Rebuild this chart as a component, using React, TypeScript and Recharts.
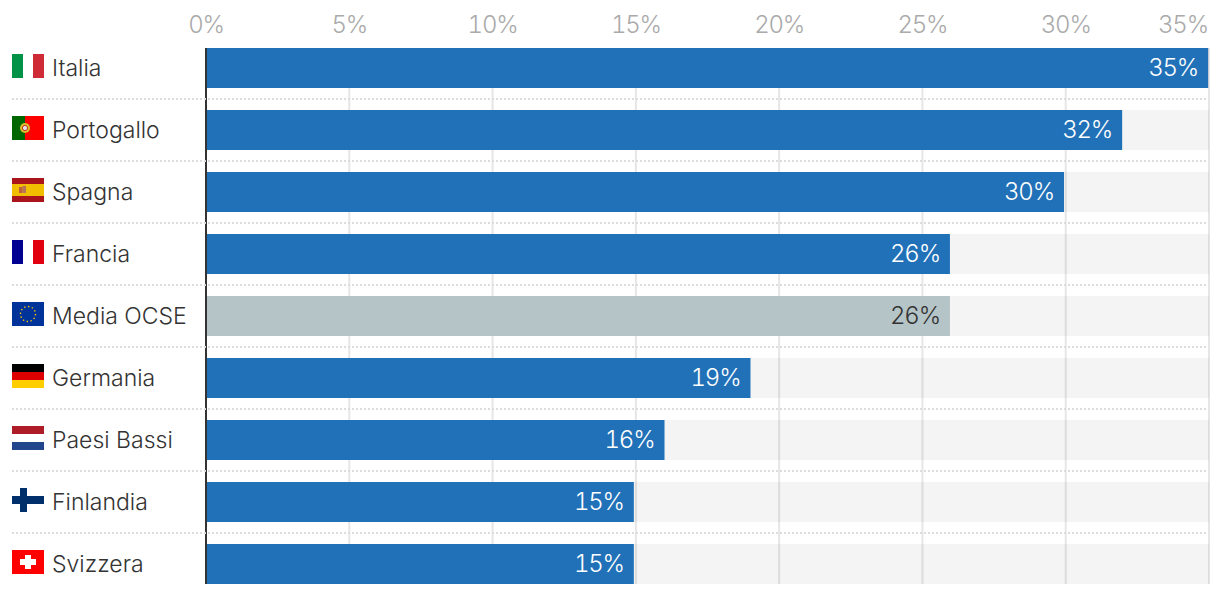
import { Bar, BarChart, CartesianGrid, Cell, LabelList, XAxis, YAxis } from "recharts";

const countries = ["Italia", "Portogallo", "Spagna", "Francia", "Media OCSE", "Germania", "Paesi Bassi", "Finlandia", "Svizzera"];
const shares = [34.97, 31.97, 29.94, 25.96, 25.96, 19, 16, 14.93, 14.93];
const xTicks = [0, 5, 10, 15, 20, 25, 30, 35];
const highlighted = "Media OCSE";

const BLUE = "#2171b8";
const GREY = "#b5c4c7";
const FONT = "Inter, 'Noto Sans', sans-serif";
const TNUM = { fontFeatureSettings: "'tnum'", letterSpacing: -1.2 };

const data = countries.map((country, i) => ({ country, share: shares[i] }));

// 32x24 flag icons, drawn from the top left corner
function Flag({ name }: { name: string }) {
  switch (name) {
    case "Italia":
      return (
        <g>
          <rect width={11} height={24} fill="#009246" />
          <rect x={21} width={11} height={24} fill="#ce2b37" />
        </g>
      );
    case "Portogallo":
      return (
        <g>
          <rect width={32} height={24} fill="#ff0000" />
          <rect width={13} height={24} fill="#006600" />
          <circle cx={13} cy={12} r={5} fill="#d9c02c" />
          <circle cx={13} cy={12} r={2.6} fill="#e4e4ee" stroke="#c8341e" strokeWidth={1} />
        </g>
      );
    case "Spagna":
      return (
        <g>
          <rect width={32} height={24} fill="#aa151b" />
          <rect y={6} width={32} height={12} fill="#f1bf00" />
          <rect x={7} y={9} width={3.5} height={6} fill="#c0603a" />
          <rect x={10.5} y={8} width={3.5} height={7} fill="#b8745a" />
        </g>
      );
    case "Francia":
      return (
        <g>
          <rect width={11} height={24} fill="#000091" />
          <rect x={21} width={11} height={24} fill="#e1000f" />
        </g>
      );
    case "Media OCSE":
      return (
        <g>
          <rect width={32} height={24} fill="#003399" />
          <circle cx={16} cy={12} r={7.5} fill="none" stroke="#ffcc00" strokeWidth={1.4} strokeDasharray="1.4 2.5" />
        </g>
      );
    case "Germania":
      return (
        <g>
          <rect width={32} height={8} fill="#000000" />
          <rect y={8} width={32} height={8} fill="#dd0000" />
          <rect y={16} width={32} height={8} fill="#ffce00" />
        </g>
      );
    case "Paesi Bassi":
      return (
        <g>
          <rect width={32} height={8} fill="#ae1c28" />
          <rect y={16} width={32} height={8} fill="#21468b" />
        </g>
      );
    case "Finlandia":
      return (
        <g>
          <rect y={8} width={32} height={8} fill="#002f6c" />
          <rect x={8} width={7} height={24} fill="#002f6c" />
        </g>
      );
    default:
      return (
        <g>
          <rect width={32} height={24} fill="#ff0000" />
          <rect x={13} y={5} width={6} height={14} fill="#ffffff" />
          <rect x={8} y={9} width={16} height={6} fill="#ffffff" />
        </g>
      );
  }
}

function CountryTick({ y, payload, index }: any) {
  return (
    <g>
      {index < countries.length - 1 && (
        <line x1={12} x2={1208} y1={y + 31} y2={y + 31} stroke="#dcdcdc" strokeWidth={2} strokeDasharray="2 2" />
      )}
      <g transform={`translate(12 ${y - 14})`}>
        <Flag name={payload.value} />
      </g>
      <text x={52} y={y + 8} fontSize={23} fontWeight={300} fontFamily={FONT} fill="#333333">
        {payload.value}
      </text>
    </g>
  );
}

function PercentTick({ x, payload, index }: any) {
  const last = index === xTicks.length - 1;
  return (
    <text
      x={last ? x - 1 : x}
      y={33}
      textAnchor={last ? "end" : "middle"}
      fontSize={24}
      fontWeight={300}
      fontFamily={FONT}
      fill="#aaaaaa"
      style={TNUM}
    >
      {payload.value}%
    </text>
  );
}

function ShareLabel({ x, y, width, height, value, index }: any) {
  return (
    <text
      x={x + width - 10}
      y={y + height / 2 + 8}
      textAnchor="end"
      fontSize={24}
      fontWeight={300}
      fontFamily={FONT}
      fill={countries[index] === highlighted ? "#333333" : "#ffffff"}
      style={TNUM}
    >
      {Math.round(value)}%
    </text>
  );
}

export default function App() {
  return (
    <div style={{ position: "absolute", left: 0, top: 0, width: 1220, height: 594, overflow: "hidden", background: "#fff" }}>
      <BarChart
        width={1220}
        height={594}
        data={data}
        layout="vertical"
        margin={{ top: 0, right: 11, bottom: 10, left: 0 }}
      >
        <CartesianGrid horizontal={false} stroke="#e6e6e6" strokeWidth={2} />
        <XAxis
          type="number"
          orientation="top"
          domain={[0, 35]}
          ticks={xTicks}
          interval={0}
          height={48}
          axisLine={false}
          tickLine={false}
          tick={PercentTick}
        />
        <YAxis
          type="category"
          dataKey="country"
          width={206}
          interval={0}
          padding={{ top: -11, bottom: -11 }}
          axisLine={{ stroke: "#333333", strokeWidth: 2 }}
          tickLine={false}
          tick={CountryTick}
        />
        <Bar
          dataKey="share"
          barSize={40}
          isAnimationActive={false}
          background={{ fill: "rgba(0,0,0,0.045)" }}
        >
          {countries.map((c) => (
            <Cell key={c} fill={c === highlighted ? GREY : BLUE} />
          ))}
          <LabelList dataKey="share" content={ShareLabel} />
        </Bar>
      </BarChart>
    </div>
  );
}
